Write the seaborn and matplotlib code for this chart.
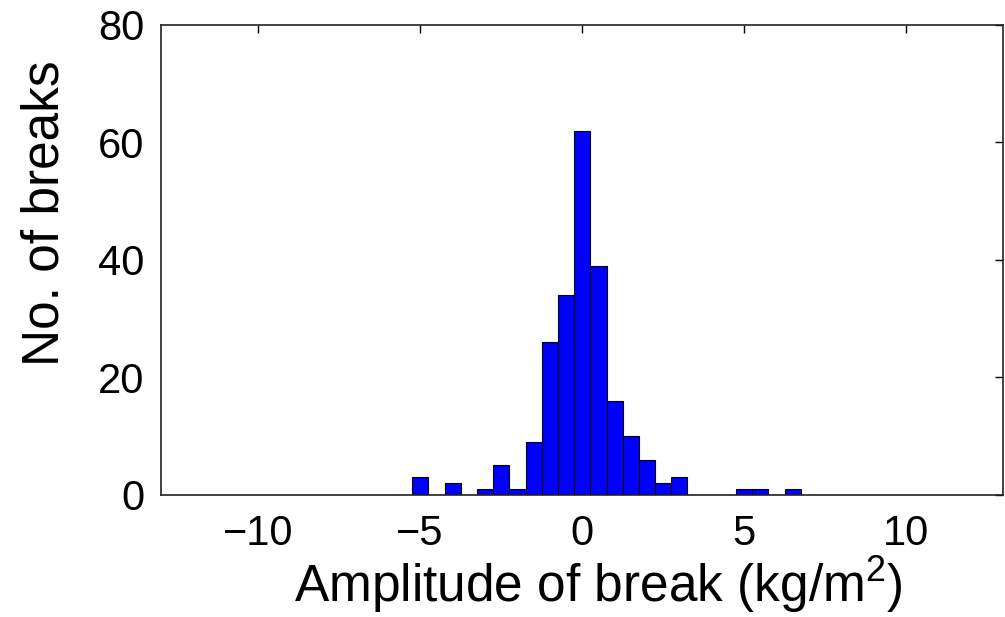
import numpy as np
import pandas as pd
import matplotlib
matplotlib.use("Agg")
import matplotlib.pyplot as plt
import seaborn as sns

# Histogram data
bin_centers = [-4.99, -4.49, -3.99, -3.49, -2.99, -2.49, -1.99, -1.49, -0.99, -0.49,
               0.01, 0.51, 1.01, 1.51, 2.01, 2.51, 3.01, 3.51, 4.01, 4.51,
               5.01, 5.51, 6.01, 6.51]
counts = [3, 0, 2, 0, 1, 5, 1, 9, 26, 34,
          62, 39, 16, 10, 6, 2, 3, 0, 0, 0,
          1, 1, 0, 1]
bin_width = 0.5
x_ticks = [-10, -5, 0, 5, 10]
y_ticks = [0, 20, 40, 60, 80]
x_label = "Amplitude of break (kg/m$^2$)"
y_label = "No. of breaks"

sns.set_style("white")
plt.rcParams['font.family'] = ['Liberation Sans', 'DejaVu Sans']
plt.rcParams['mathtext.fontset'] = 'custom'
plt.rcParams['mathtext.rm'] = 'Liberation Sans'

df = pd.DataFrame({"center": bin_centers, "count": counts})
lo = bin_centers[0] - bin_width / 2
hi = bin_centers[-1] + bin_width / 2

fig = plt.figure(figsize=(10.05, 6.17), dpi=100)
ax = fig.add_axes([0.16, 0.198, 0.838, 0.7615])

sns.histplot(data=df, x="center", weights="count", binwidth=bin_width,
             binrange=(lo, hi), ax=ax,
             color="#0000ff", alpha=1.0, edgecolor="black", linewidth=0.8)

ax.set_xlim(-13, 13)
ax.set_ylim(0, 80)
ax.set_xticks(x_ticks)
ax.set_yticks(y_ticks)
ax.set_xticklabels(["\u2212" + str(abs(t)) if t < 0 else str(t) for t in x_ticks])
ax.tick_params(axis="both", direction="in", length=6, width=1,
               top=True, right=True, labelsize=30, colors="black")
ax.tick_params(axis="x", pad=14)
ax.tick_params(axis="y", pad=12)
for s in ax.spines.values():
    s.set_visible(True)
    s.set_color("#222222")
    s.set_linewidth(1.2)
ax.set_xlabel(x_label, fontsize=37, labelpad=0, color="black")
ax.set_ylabel(y_label, fontsize=37, labelpad=20, color="black")
ax.xaxis.label.set_x(0.52)
ax.yaxis.label.set_y(0.60)
ax.grid(False)

fig.savefig("out.png", dpi=100, facecolor="white")
